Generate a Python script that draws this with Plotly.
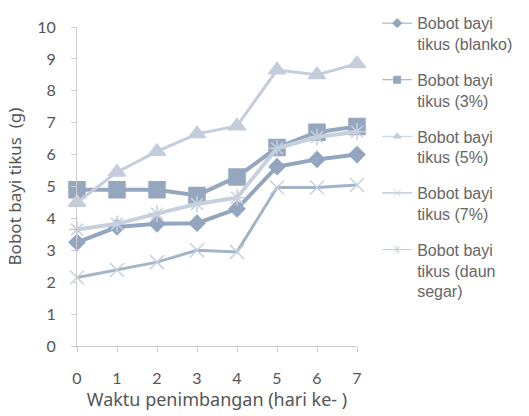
import plotly.graph_objects as go

days = [0, 1, 2, 3, 4, 5, 6, 7]

blanko = [3.25, 3.73, 3.83, 3.85, 4.3, 5.62, 5.85, 6.0]
pct3 = [4.9, 4.9, 4.9, 4.72, 5.3, 6.22, 6.7, 6.88]
pct5 = [4.5, 5.45, 6.1, 6.65, 6.9, 8.65, 8.5, 8.85]
pct7 = [2.15, 2.38, 2.63, 3.0, 2.95, 4.97, 4.97, 5.05]
daun_segar = [3.65, 3.83, 4.15, 4.45, 4.65, 6.2, 6.55, 6.72]

names = [
    "Bobot bayi<br>tikus (blanko)",
    "Bobot bayi<br>tikus (3%)",
    "Bobot bayi<br>tikus (5%)",
    "Bobot bayi<br>tikus (7%)",
    "Bobot bayi<br>tikus (daun<br>segar)",
]

styles = [
    dict(color="#93a6bf", width=4, symbol="diamond", size=12, mcolor="#93a6bf"),
    dict(color="#95a7bf", width=4, symbol="square", size=16, mcolor="#95a7bf"),
    dict(color="#c3cddc", width=3, symbol="triangle-up", size=15, mcolor="#c3cddc"),
    dict(color="#a3b3c8", width=3, symbol="x-thin-open", size=14, mcolor="#c6d0de"),
    dict(color="#c6d0de", width=4, symbol="asterisk-open", size=14, mcolor="#c6d0de"),
]

series = [blanko, pct3, pct5, pct7, daun_segar]

fig = go.Figure()
for i, (vals, name, st) in enumerate(zip(series, names, styles)):
    # data trace
    fig.add_trace(go.Scatter(
        x=days, y=vals, name=name, mode="lines+markers",
        showlegend=False, legendgroup=f"g{i}",
        line=dict(color=st["color"], width=st["width"]),
        marker=dict(symbol=st["symbol"], size=st["size"], color=st["mcolor"],
                    line=dict(color=st["mcolor"], width=1.5)),
        cliponaxis=False,
    ))
    # slim legend entry
    fig.add_trace(go.Scatter(
        x=[None], y=[None], name=name, mode="lines+markers",
        legendgroup=f"g{i}",
        line=dict(color=st["color"], width=1),
        marker=dict(symbol=st["symbol"], size=7, color=st["mcolor"],
                    line=dict(color=st["mcolor"], width=1)),
    ))

fig.update_layout(
    width=529, height=416,
    margin=dict(l=77, r=172, t=27, b=70),
    paper_bgcolor="white", plot_bgcolor="white",
    font=dict(family="Liberation Sans, Arial, sans-serif", color="#555555"),
    showlegend=True,
    legend=dict(
        x=0.713, xanchor="left", xref="container",
        y=0.985, yanchor="top", yref="container",
        valign="top",
        font=dict(size=16, color="#666666"),
        tracegroupgap=12, maxheight=1.0,
        bgcolor="rgba(0,0,0,0)",
    ),
    xaxis=dict(
        range=[0, 7], tickvals=days, showgrid=False, zeroline=False,
        automargin=False,
        showline=True, linecolor="#cccccc", linewidth=1,
        ticks="outside", ticklen=5, tickcolor="#cccccc",
        ticklabelstandoff=13,
        tickfont=dict(family="Lato, sans-serif", size=16, color="#555555"),
        title=dict(text="Waktu penimbangan (hari ke- )", standoff=6,
                   font=dict(family="Noto Sans, sans-serif", size=18, color="#555555")),
    ),
    yaxis=dict(
        range=[0, 10], dtick=1, showgrid=False, zeroline=False,
        automargin=False,
        showline=True, linecolor="#cccccc", linewidth=1,
        ticks="outside", ticklen=5, tickcolor="#cccccc",
        ticklabelstandoff=12,
        tickfont=dict(family="Lato, sans-serif", size=16, color="#555555"),
        title=dict(text="Bobot bayi tikus  (g)", standoff=11,
                   font=dict(family="Noto Sans, sans-serif", size=17, color="#555555")),
    ),
)

fig.write_html("out.html")
